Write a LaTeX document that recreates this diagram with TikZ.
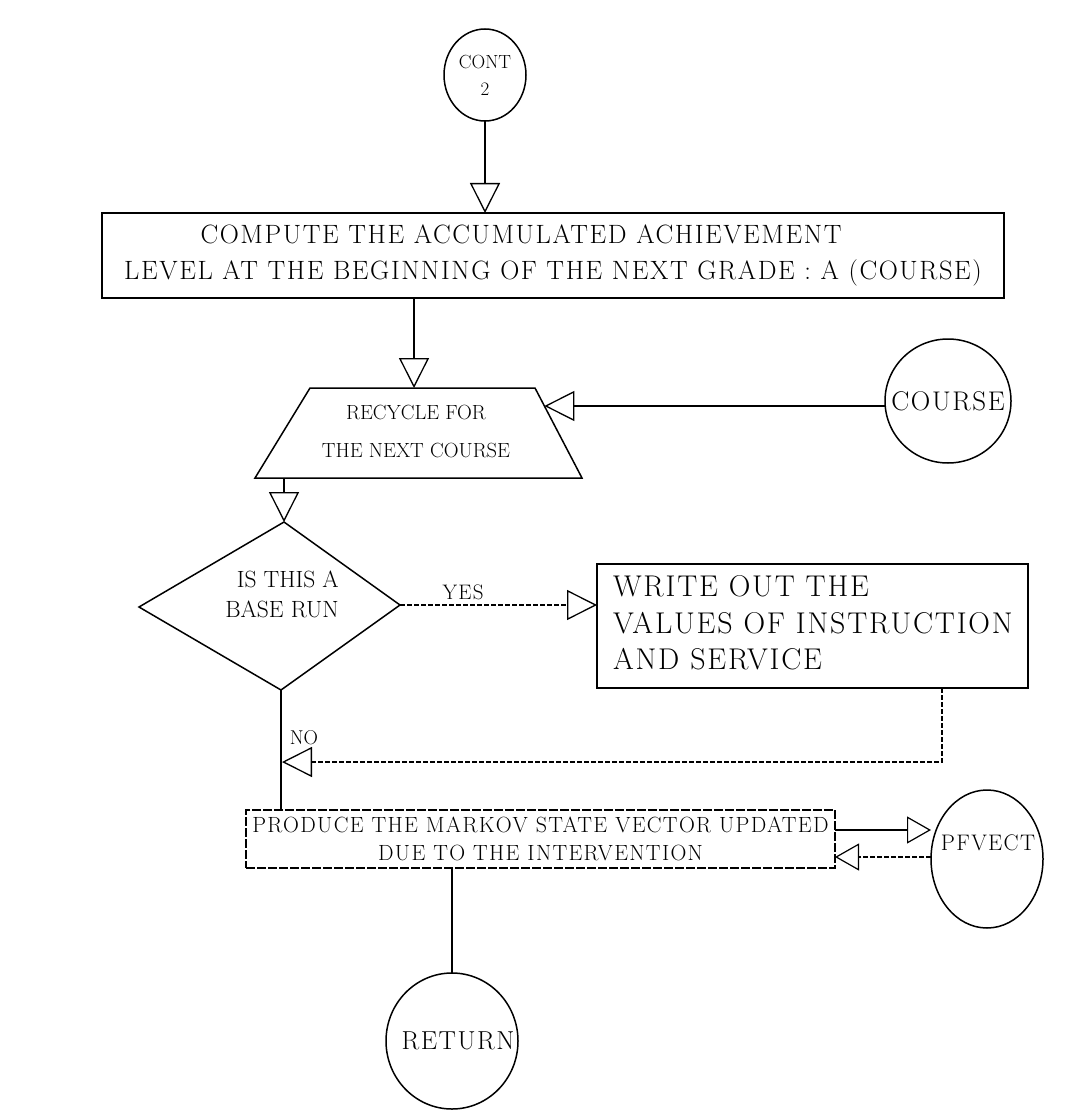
\documentclass[tikz,border=0pt]{standalone}
\usepackage{fontspec}
\setmainfont{Latin Modern Roman}
\newfontfamily\spaced{Latin Modern Roman}[LetterSpace=6]
\usetikzlibrary{arrows.meta,shapes.geometric,calc}

\begin{document}
\begin{tikzpicture}[x=1pt,y=-1pt,
  every node/.style={inner sep=0pt, outer sep=0pt},
  conn/.style={draw, line width=1.5pt},
  dashconn/.style={draw, line width=1.3pt, dash pattern=on 5pt off 2pt},
  bighead/.style={-{Triangle[open,length=30pt,width=30pt,line width=1.3pt]}},
  smallhead/.style={-{Triangle[open,length=24pt,width=27pt,line width=1.2pt]}},
  terminal/.style={draw, ellipse, line width=1.5pt, inner xsep=-24pt, inner ysep=-6pt},
  procbox/.style={draw, rectangle, line width=1.5pt},
  outline/.style={draw, line width=1.5pt, line join=miter},
]
\useasboundingbox (0,0) rectangle (1090,1115);

% entry connector circle
\node[draw, ellipse, line width=1.5pt, minimum width=82pt, minimum height=92pt,
      align=center, font=\fontsize{19}{27}\selectfont] (cont) at (485,75) {CONT\\2};

% accumulated achievement
\node[procbox, minimum width=902pt, minimum height=85pt, align=center,
      font=\spaced\fontsize{26.5}{36}\selectfont] (accum) at (553,255.5)
  {COMPUTE THE ACCUMULATED ACHIEVEMENT\hspace*{64pt}\\
   LEVEL AT THE BEGINNING OF THE NEXT GRADE : A (COURSE)};

% recycle block (trapezoid outline drawn from its corners)
\coordinate (rtl) at (310,388);
\coordinate (rtr) at (535,388);
\coordinate (rbr) at (582,478);
\coordinate (rbl) at (255,478);
\draw[outline] (rtl) -- (rtr) -- (rbr) -- (rbl) -- cycle;
\node[align=center, font=\fontsize{20.5}{38}\selectfont] (recyc) at (416,431)
  {RECYCLE FOR\\THE NEXT COURSE};
\coordinate (recyctop) at (414,388);
\coordinate (recycin) at ($(rtr)!0.2!(rbr)$);
\coordinate (recycout) at (284,478);

\node[terminal, minimum width=126pt, minimum height=124pt,
      font=\spaced\fontsize{27}{27}\selectfont] (course) at (948,401) {COURSE};

% decision
\coordinate (dtop) at (284,522);
\coordinate (dright) at (400,605);
\coordinate (dbot) at (281,690);
\coordinate (dleft) at (139,607);
\draw[outline] (dtop) -- (dright) -- (dbot) -- (dleft) -- cycle;
\node[align=right, font=\fontsize{23.5}{30}\selectfont] (base) at (282,594)
  {IS THIS A\\BASE RUN};

\node[procbox, minimum width=431pt, minimum height=124pt] (write) at (812.5,626) {};
\node[align=left, anchor=west, font=\spaced\fontsize{30}{36.5}\selectfont]
  (writetext) at (613,623) {WRITE OUT THE\\VALUES OF INSTRUCTION\\AND SERVICE};

\node[draw, rectangle, line width=1.3pt, dash pattern=on 9pt off 2pt,
      minimum width=589pt, minimum height=58pt, align=center,
      font=\spaced\fontsize{22}{28}\selectfont] (markov) at (540.5,839)
  {PRODUCE THE MARKOV STATE VECTOR UPDATED\\DUE TO THE INTERVENTION};

\node[terminal, minimum width=112pt, minimum height=138pt] (pfvect) at (987,859) {};
\node[font=\spaced\fontsize{22.5}{22.5}\selectfont] (pfvecttext) at (988,843) {PFVECT};

\node[terminal, minimum width=132pt, minimum height=136pt,
      font=\spaced\fontsize{26}{26}\selectfont] (ret) at (452,1041)
  {\hspace*{12pt}RETURN};

% branch labels
\node[font=\spaced\fontsize{21}{21}\selectfont] (yes) at (463,592) {YES};
\node[font=\fontsize{20}{20}\selectfont] (no) at (304,738) {NO};

% connectors
\draw[conn, bighead] (cont) -- (cont |- accum.north);
\draw[conn, bighead] (recyctop |- accum.south) -- (recyctop);
\draw[conn, bighead] (course.west |- recycin) -- (recycin);
\draw[conn, bighead] (recycout) -- (dtop);
\draw[dashconn, bighead] (dright) -- (dright -| write.west);
\coordinate (merge) at (282,762);
\draw[dashconn, bighead] (942,688) |- (merge);
\draw[conn] (dbot) -- (dbot |- markov.north);
\draw[conn, smallhead] (markov.east |- 0,830) -- (pfvect.west |- 0,830);
\draw[dashconn, smallhead] (pfvect.west |- 0,857) -- (markov.east |- 0,857);
\draw[conn] (ret.north |- markov.south) -- (ret.north);
\end{tikzpicture}
\end{document}
